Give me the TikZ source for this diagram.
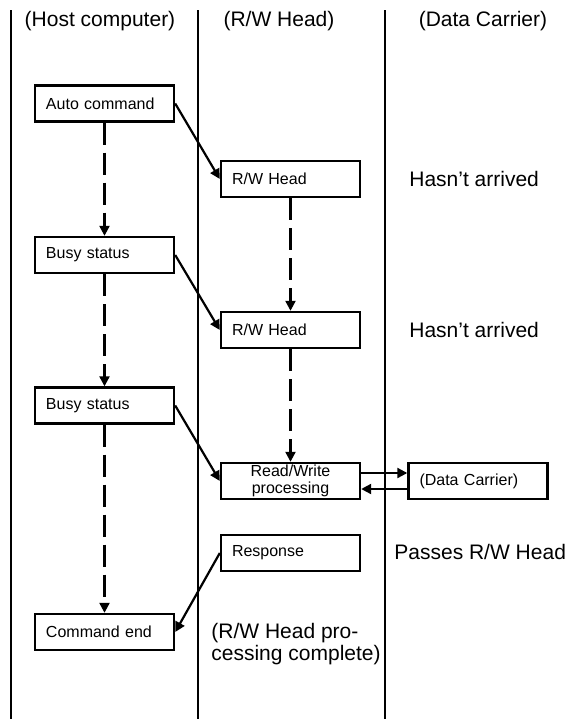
\documentclass[tikz,border=0pt]{standalone}
\usepackage{fontspec}
\setmainfont{Liberation Sans}
\usetikzlibrary{arrows.meta}
\begin{document}
\begin{tikzpicture}[
  x=0.5pt, y=-0.5pt,
  box/.style={draw, line width=1.2pt, minimum width=69.5pt, minimum height=18pt,
    text width=58.5pt, inner xsep=5.5pt, inner ysep=0pt, align=left,
    font=\fontsize{8}{8.5}\selectfont},
  lbl/.style={font=\fontsize{10.5}{11}\selectfont, inner sep=0pt},
  flow/.style={line width=1.1pt, -{Triangle[length=5pt, width=5pt]}},
  dashflow/.style={flow, dash pattern=on 11pt off 4pt}
]
\useasboundingbox (0,0) rectangle (564,719);
% ---------------- lanes and headings --------------------------------------
\foreach \x in {11,198,385}
  \draw[line width=1.2pt] (\x,10) -- (\x,719);
\node[lbl] (hhost) at (100,21) {(Host computer)};
\node[lbl] (hhead) at (279,21) {(R/W Head)};
\node[lbl] (hcarr) at (483,21) {(Data Carrier)};
% ---------------- host computer -------------------------------------------
\node[box] (auto)  at (104.5,103.5) {Auto command};
\node[box] (busy1) at (104.5,255) {Busy status};
\node[box] (busy2) at (104.5,405.5) {Busy status};
\node[box] (cend)  at (104.5,632) {Command end};
% ---------------- R/W head ------------------------------------------------
\node[box] (rw1)  at (290.5,179) {R/W Head};
\node[box] (rw2)  at (290.5,330) {R/W Head};
\node[box, align=center] (proc) at (290.5,481) {Read/Write\\processing};
\node[box] (resp) at (290.5,553) {Response};
% ---------------- data carrier --------------------------------------------
\node[box] (dc) at (478,481) {(Data Carrier)};
\node[lbl, anchor=west] (na1) at (409,179) {Hasn’t arrived};
\node[lbl, anchor=west] (na2) at (409,330) {Hasn’t arrived};
\node[lbl, anchor=west] (pass) at (394,552) {Passes R/W Head};
\node[lbl, anchor=west, align=left] (done) at (211,644)
  {(R/W Head pro-\\cessing complete)};
% ---------------- connectors ----------------------------------------------
\draw[dashflow] (auto) -- (busy1);
\draw[dashflow] (busy1) -- (busy2);
\draw[dashflow] (busy2) -- (cend);
\draw[dashflow] (rw1) -- (rw2);
\draw[dashflow] (rw2) -- (proc);
\draw[flow] (auto.east) -- (rw1.west);
\draw[flow] (busy1.east) -- (rw2.west);
\draw[flow] (busy2.east) -- (proc.west);
\draw[flow] (resp.west) -- (cend.east);
\draw[flow] ([yshift=4pt]proc.east) -- ([yshift=4pt]dc.west);
\draw[flow] ([yshift=-4pt]dc.west) -- ([yshift=-4pt]proc.east);
\end{tikzpicture}
\end{document}
